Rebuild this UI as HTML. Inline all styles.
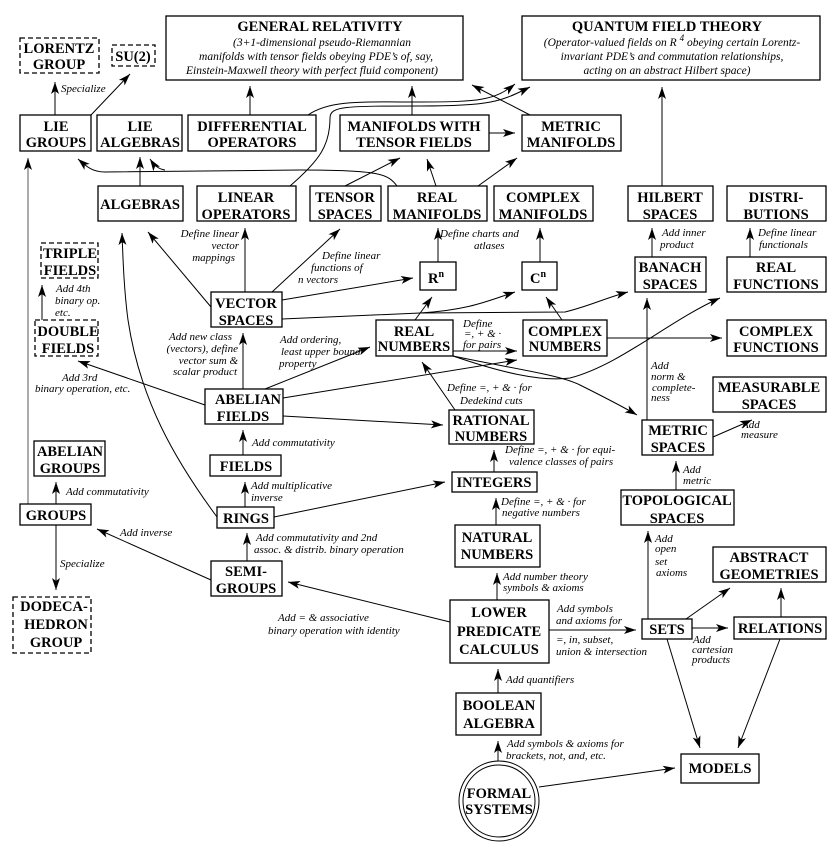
<!DOCTYPE html>
<html><head><meta charset="utf-8"><style>
html,body{margin:0;padding:0;background:#fff}
svg{display:block;font-family:"Liberation Serif","DejaVu Serif","Times New Roman",serif}
.b{font-family:"Liberation Serif","DejaVu Serif","Times New Roman",serif;font-weight:bold;font-size:14.5px;text-anchor:middle;fill:#000}
.l{font-family:"Liberation Serif","DejaVu Serif","Times New Roman",serif;font-style:italic;font-size:11px;fill:#000}
.i{font-family:"Liberation Serif","DejaVu Serif","Times New Roman",serif;font-style:italic;font-size:11.5px;text-anchor:middle;fill:#000}
rect{fill:#fff;stroke:#000;stroke-width:1.3}
.d{stroke-dasharray:5,3}
.e{fill:none;stroke:#000;stroke-width:1;marker-end:url(#a)}
.g{fill:none;stroke:#888;stroke-width:1.4;marker-end:url(#a)}
.n{fill:none;stroke:#000;stroke-width:1}
</style></head><body>
<svg width="839" height="845" viewBox="0 0 839 845" xmlns="http://www.w3.org/2000/svg" font-family="Liberation Serif, DejaVu Serif, serif">
<defs><marker id="a" markerUnits="userSpaceOnUse" markerWidth="14" markerHeight="10" refX="12" refY="4" orient="auto"><path d="M0,0 L12,4 L0,8 L3,4 z" fill="#000"/></marker></defs>

<path class="e" d="M55,115 L55,82"/>
<path class="e" d="M91,115 L130,74"/>
<path class="e" d="M250,115 L250,86"/>
<path class="e" d="M412,115 L412,86"/>
<path class="e" d="M308,115 C330,100 360,102 420,102 C480,102 495,100 515,84"/>
<path class="e" d="M290,186 C320,160 330,145 330,118 C330,106 345,106 420,106 C490,106 500,102 530,87"/>
<path class="e" d="M530,115 L472,85"/>
<path class="e" d="M489,133 L515,133"/>
<path class="e" d="M436,186 L427,159"/>
<path class="e" d="M478,186 L517,158"/>
<path class="e" d="M345,186 L400,158"/>
<path class="e" d="M140,186 L140,157"/>
<path class="e" d="M397,186 C388,174 380,170 300,170 L105,172 C92,172 86,166 78,159"/>
<path class="e" d="M165,170 C158,169 154,165 150,159"/>
<path class="e" d="M662,186 L662,87"/>
<path class="e" d="M438,262 L438,228"/>
<path class="e" d="M540,262 L540,228"/>
<path class="e" d="M652,257 L652,228"/>
<path class="e" d="M750,257 L750,228"/>
<path class="e" d="M245,292 L245,228"/>
<path class="e" d="M211,307 L148,232"/>
<path class="e" d="M272,292 L340,229"/>
<path class="e" d="M282,300 L413,278"/>
<path class="e" d="M282,319 L420,313 C470,310 490,300 515,292"/>
<path class="e" d="M420,313 L565,312 C590,306 605,298 628,292"/>
<path class="e" d="M415,320 L432,297"/>
<path class="e" d="M562,320 L546,297"/>
<path class="e" d="M607,338 L722,338"/>
<path class="e" d="M453,351 L517,351"/>
<path class="e" d="M283,398 L517,360"/>
<path class="e" d="M265,389 L370,347"/>
<path class="e" d="M283,416 L443,425"/>
<path class="e" d="M243,389 L243,333"/>
<path class="e" d="M205,405 L78,361"/>
<path class="e" d="M42,320 L42,285"/>
<path class="e" d="M455,410 L422,362"/>
<path class="e" d="M453,356 C520,370 560,375 580,385 C600,395 620,405 637,415"/>
<path class="e" d="M453,356 C500,372 540,382 570,378 C620,365 670,320 720,298"/>
<path class="e" d="M243,455 L243,430"/>
<path class="e" d="M245,507 L245,482"/>
<path class="e" d="M274,517 L445,482"/>
<path class="n" d="M217,517 C175,460 140,400 128,320"/>
<path class="e" d="M128,320 C124,290 123,260 122,233"/>
<path class="e" d="M247,561 L247,533"/>
<path class="e" d="M211,580 L97,529"/>
<path class="e" d="M450,622 L288,582"/>
<path class="e" d="M56,504 L56,482"/>
<path class="e" d="M56,525 L56,590"/>
<path class="g" d="M28,504 L28,158"/>
<path class="e" d="M494,472 L494,450"/>
<path class="e" d="M496,525 L496,498"/>
<path class="e" d="M497,600 L497,573"/>
<path class="e" d="M549,630 L636,630"/>
<path class="e" d="M648,619 L648,531"/>
<path class="e" d="M676,490 L676,461"/>
<path class="e" d="M713,437 L752,420"/>
<path class="e" d="M647,420 L647,298"/>
<path class="e" d="M686,619 L730,588"/>
<path class="e" d="M692,628 L728,628"/>
<path class="e" d="M781,617 L781,588"/>
<path class="e" d="M667,639 L700,748"/>
<path class="e" d="M780,639 L738,748"/>
<path class="e" d="M498,693 L498,669"/>
<path class="e" d="M498,761 L498,741"/>
<path class="e" d="M539,787 L675,768"/>

<rect class="d" x="20" y="38" width="79" height="35"/><text class="b" x="59" y="53">LORENTZ</text><text class="b" x="59" y="69">GROUP</text>
<rect class="d" x="112" y="45" width="43" height="21"/><text class="b" x="133" y="61">SU(2)</text>
<rect x="166" y="16" width="297" height="64"/>
<text class="b" x="320" y="31">GENERAL RELATIVITY</text>
<text class="i" x="322" y="46">(3+1-dimensional pseudo-Riemannian</text>
<text class="i" x="316" y="60">manifolds with tensor fields obeying PDE’s of, say,</text>
<text class="i" x="312" y="74">Einstein-Maxwell theory with perfect fluid component)</text>
<rect x="522" y="16" width="298" height="64"/>
<text class="b" x="667" y="31">QUANTUM FIELD THEORY</text>
<text class="i" x="672" y="46">(Operator-valued fields on R <tspan font-size="9" dy="-5">4</tspan><tspan dy="5"> obeying certain Lorentz-</tspan></text>
<text class="i" x="672" y="60">invariant PDE’s and commutation relationships,</text>
<text class="i" x="667" y="74">acting on an abstract Hilbert space)</text>

<rect x="20" y="115" width="71" height="36"/><text class="b" x="56" y="131">LIE</text><text class="b" x="56" y="147">GROUPS</text>
<rect x="97" y="115" width="85" height="36"/><text class="b" x="140" y="131">LIE</text><text class="b" x="140" y="147">ALGEBRAS</text>
<rect x="188" y="115" width="128" height="36"/><text class="b" x="252" y="131">DIFFERENTIAL</text><text class="b" x="252" y="147">OPERATORS</text>
<rect x="340" y="115" width="149" height="36"/><text class="b" x="414" y="131">MANIFOLDS WITH</text><text class="b" x="414" y="147">TENSOR FIELDS</text>
<rect x="522" y="115" width="99" height="36"/><text class="b" x="571" y="131">METRIC</text><text class="b" x="571" y="147">MANIFOLDS</text>

<rect x="98" y="186" width="85" height="35"/><text class="b" x="140" y="209">ALGEBRAS</text>
<rect x="197" y="186" width="99" height="35"/><text class="b" x="246" y="202">LINEAR</text><text class="b" x="246" y="219">OPERATORS</text>
<rect x="310" y="186" width="71" height="35"/><text class="b" x="345" y="202">TENSOR</text><text class="b" x="345" y="219">SPACES</text>
<rect x="388" y="186" width="99" height="35"/><text class="b" x="437" y="202">REAL</text><text class="b" x="437" y="219">MANIFOLDS</text>
<rect x="494" y="186" width="99" height="35"/><text class="b" x="543" y="202">COMPLEX</text><text class="b" x="543" y="219">MANIFOLDS</text>
<rect x="628" y="186" width="85" height="35"/><text class="b" x="670" y="202">HILBERT</text><text class="b" x="670" y="219">SPACES</text>
<rect x="727" y="186" width="99" height="35"/><text class="b" x="776" y="202">DISTRI-</text><text class="b" x="776" y="219">BUTIONS</text>

<rect class="d" x="41" y="243" width="57" height="35"/><text class="b" x="70" y="258">TRIPLE</text><text class="b" x="70" y="275">FIELDS</text>
<rect x="420" y="262" width="36" height="28"/><text class="b" x="436" y="283">R<tspan font-size="10" dy="-6">n</tspan></text>
<rect x="522" y="262" width="35" height="28"/><text class="b" x="538" y="283">C<tspan font-size="10" dy="-6">n</tspan></text>
<rect x="635" y="257" width="71" height="35"/><text class="b" x="670" y="272">BANACH</text><text class="b" x="670" y="289">SPACES</text>
<rect x="727" y="257" width="99" height="35"/><text class="b" x="776" y="272">REAL</text><text class="b" x="776" y="289">FUNCTIONS</text>

<rect x="211" y="292" width="71" height="35"/><text class="b" x="246" y="308">VECTOR</text><text class="b" x="246" y="325">SPACES</text>
<rect class="d" x="35" y="320" width="63" height="36"/><text class="b" x="68" y="336">DOUBLE</text><text class="b" x="68" y="353">FIELDS</text>
<rect x="376" y="320" width="77" height="36"/><text class="b" x="414" y="336">REAL</text><text class="b" x="414" y="351">NUMBERS</text>
<rect x="523" y="320" width="84" height="36"/><text class="b" x="565" y="336">COMPLEX</text><text class="b" x="565" y="351">NUMBERS</text>
<rect x="727" y="320" width="99" height="36"/><text class="b" x="776" y="336">COMPLEX</text><text class="b" x="776" y="352">FUNCTIONS</text>

<rect x="205" y="389" width="78" height="35"/><text class="b" x="248" y="404">ABELIAN</text><text class="b" x="243" y="421">FIELDS</text>
<rect x="449" y="410" width="85" height="34"/><text class="b" x="491" y="425">RATIONAL</text><text class="b" x="491" y="441">NUMBERS</text>
<rect x="713" y="377" width="113" height="35"/><text class="b" x="769" y="392">MEASURABLE</text><text class="b" x="769" y="409">SPACES</text>
<rect x="642" y="420" width="71" height="35"/><text class="b" x="678" y="435">METRIC</text><text class="b" x="678" y="452">SPACES</text>
<rect x="34" y="441" width="71" height="35"/><text class="b" x="70" y="456">ABELIAN</text><text class="b" x="70" y="473">GROUPS</text>
<rect x="210" y="455" width="71" height="21"/><text class="b" x="246" y="471">FIELDS</text>
<rect x="452" y="472" width="85" height="20"/><text class="b" x="494" y="487">INTEGERS</text>
<rect x="621" y="490" width="113" height="35"/><text class="b" x="677" y="505">TOPOLOGICAL</text><text class="b" x="677" y="523">SPACES</text>
<rect x="20" y="504" width="71" height="21"/><text class="b" x="56" y="520">GROUPS</text>
<rect x="217" y="507" width="57" height="21"/><text class="b" x="246" y="523">RINGS</text>
<rect x="455" y="525" width="85" height="42"/><text class="b" x="497" y="542">NATURAL</text><text class="b" x="497" y="559">NUMBERS</text>
<rect x="713" y="547" width="113" height="35"/><text class="b" x="769" y="562">ABSTRACT</text><text class="b" x="769" y="579">GEOMETRIES</text>
<rect x="211" y="561" width="71" height="35"/><text class="b" x="246" y="576">SEMI-</text><text class="b" x="246" y="593">GROUPS</text>
<rect class="d" x="13" y="597" width="78" height="56"/><text class="b" x="54" y="611">DODECA-</text><text class="b" x="56" y="629">HEDRON</text><text class="b" x="56" y="647">GROUP</text>
<rect x="450" y="600" width="99" height="63"/><text class="b" x="499" y="617">LOWER</text><text class="b" x="499" y="636">PREDICATE</text><text class="b" x="499" y="654">CALCULUS</text>
<rect x="642" y="619" width="50" height="20"/><text class="b" x="667" y="634">SETS</text>
<rect x="734" y="617" width="92" height="22"/><text class="b" x="780" y="633">RELATIONS</text>
<rect x="456" y="693" width="85" height="42"/><text class="b" x="499" y="710">BOOLEAN</text><text class="b" x="499" y="728">ALGEBRA</text>
<rect x="681" y="754" width="78" height="29"/><text class="b" x="720" y="773">MODELS</text>
<circle cx="499" cy="801" r="40" fill="#fff" stroke="#000" stroke-width="1"/>
<circle cx="499" cy="801" r="36" fill="#fff" stroke="#000" stroke-width="1"/>
<text class="b" x="499" y="798">FORMAL</text><text class="b" x="499" y="814">SYSTEMS</text>

<text class="l" x="61" y="92">Specialize</text>
<text class="l" x="440" y="237">Define charts and</text><text class="l" x="474" y="249">atlases</text>
<text class="l" x="662" y="236">Add inner</text><text class="l" x="660" y="248">product</text>
<text class="l" x="758" y="236">Define linear</text><text class="l" x="759" y="248">functionals</text>
<text class="l" x="239" y="237" text-anchor="end">Define linear</text><text class="l" x="239" y="249" text-anchor="end">vector</text><text class="l" x="235" y="261" text-anchor="end">mappings</text>
<text class="l" x="322" y="259">Define linear</text><text class="l" x="311" y="271">functions of</text><text class="l" x="298" y="283">n vectors</text>
<text class="l" x="463" y="327">Define</text><text class="l" x="464" y="337">=, + &amp; ·</text><text class="l" x="463" y="348">for pairs</text>
<text class="l" x="280" y="343">Add ordering,</text><text class="l" x="281" y="355">least upper bound</text><text class="l" x="279" y="367">property</text>
<text class="l" x="232" y="340" text-anchor="end">Add new class</text><text class="l" x="238" y="352" text-anchor="end">(vectors), define</text><text class="l" x="238" y="364" text-anchor="end">vector sum &amp;</text><text class="l" x="237" y="375" text-anchor="end">scalar product</text>
<text class="l" x="62" y="381">Add 3rd</text><text class="l" x="35" y="392">binary operation, etc.</text>
<text class="l" x="56" y="292">Add 4th</text><text class="l" x="55" y="304">binary op.</text><text class="l" x="55" y="316">etc.</text>
<text class="l" x="447" y="391">Define =, + &amp; · for</text><text class="l" x="460" y="404">Dedekind cuts</text>
<text class="l" x="651" y="369">Add</text><text class="l" x="651" y="380">norm &amp;</text><text class="l" x="652" y="391">complete-</text><text class="l" x="651" y="401">ness</text>
<text class="l" x="742" y="428">Add</text><text class="l" x="741" y="438">measure</text>
<text class="l" x="252" y="446">Add commutativity</text>
<text class="l" x="505" y="453">Define =, + &amp; · for equi-</text><text class="l" x="509" y="465">valence classes of pairs</text>
<text class="l" x="683" y="473">Add</text><text class="l" x="683" y="484">metric</text>
<text class="l" x="251" y="489">Add multiplicative</text><text class="l" x="251" y="501">inverse</text>
<text class="l" x="66" y="495">Add commutativity</text>
<text class="l" x="501" y="505">Define =, + &amp; · for</text><text class="l" x="502" y="516">negative numbers</text>
<text class="l" x="120" y="536">Add inverse</text>
<text class="l" x="256" y="541">Add commutativity and 2nd</text><text class="l" x="254" y="553">assoc. &amp; distrib. binary operation</text>
<text class="l" x="655" y="542">Add</text><text class="l" x="655" y="552">open</text><text class="l" x="655" y="565">set</text><text class="l" x="656" y="576">axioms</text>
<text class="l" x="60" y="567">Specialize</text>
<text class="l" x="503" y="580">Add number theory</text><text class="l" x="503" y="591">symbols &amp; axioms</text>
<text class="l" x="557" y="612">Add symbols</text><text class="l" x="556" y="624">and axioms for</text>
<text class="l" x="556" y="643">=, in, subset,</text><text class="l" x="556" y="655">union &amp; intersection</text>
<text class="l" x="278" y="621">Add = &amp; associative</text><text class="l" x="268" y="634">binary operation with identity</text>
<text class="l" x="693" y="643">Add</text><text class="l" x="692" y="653">cartesian</text><text class="l" x="692" y="663">products</text>
<text class="l" x="506" y="683">Add quantifiers</text>
<text class="l" x="507" y="747">Add symbols &amp; axioms for</text><text class="l" x="506" y="759">brackets, not, and, etc.</text>
</svg>
</body></html>
